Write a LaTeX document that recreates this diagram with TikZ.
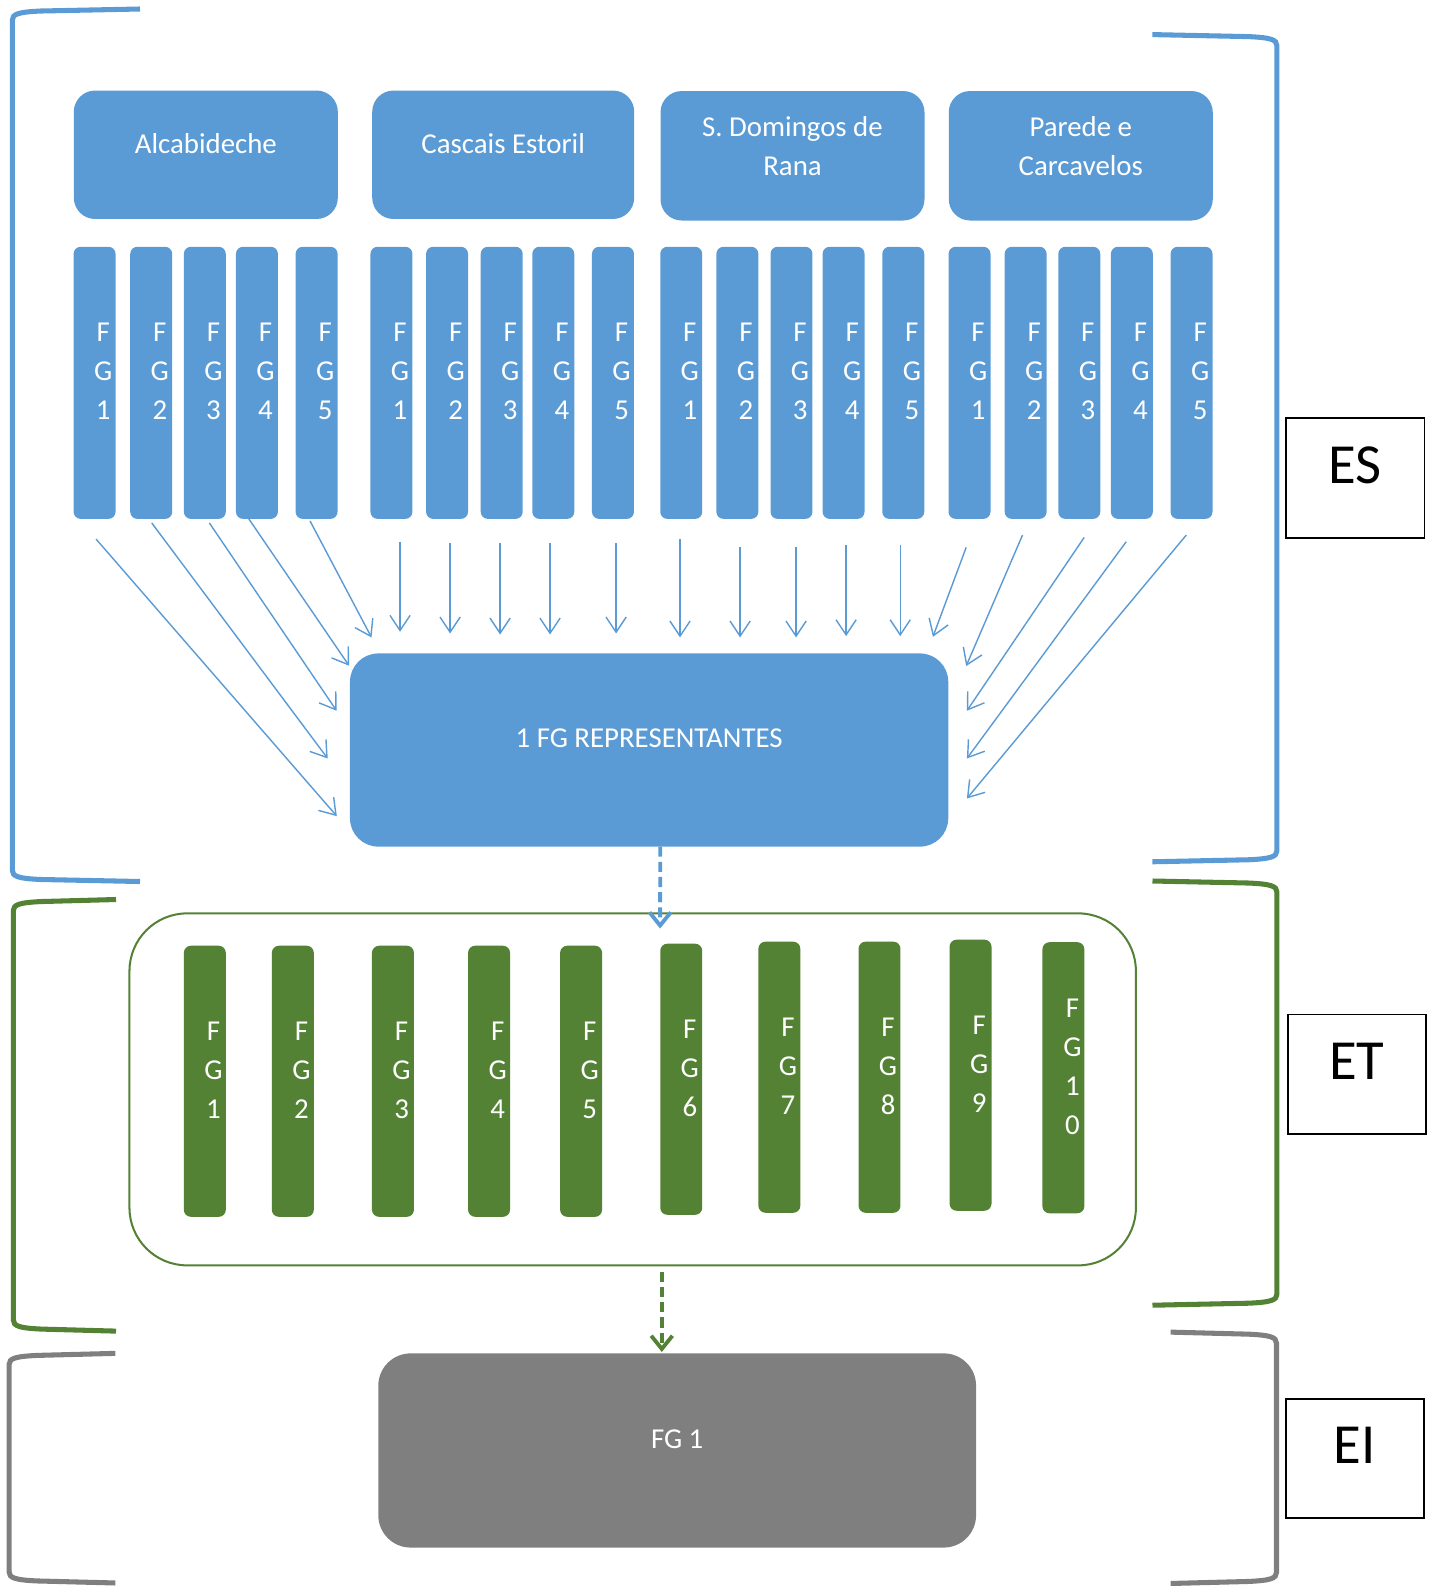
\documentclass[tikz,border=0pt]{standalone}
\usepackage{fontspec}
\setmainfont{Carlito}
\usetikzlibrary{arrows.meta,calc}
\definecolor{blu}{HTML}{5B9BD5}
\definecolor{grn}{HTML}{548235}
\definecolor{gry}{HTML}{7F7F7F}
\newcommand\mybrL[5]{% color, X, T, B, E
 \draw[brk,#1] (#5,#3) -- ({#2+28},{#3+2}) .. controls ({#2+6},{#3+3}) and (#2,{#3+5}) .. (#2,{#3+11}) -- (#2,{#4-11}) .. controls (#2,{#4-5}) and ({#2+6},{#4-3}) .. ({#2+28},{#4-2}) -- (#5,#4);}
\newcommand\mybrR[5]{% color, X, T, B, E
 \draw[brk,#1] (#5,#3) -- ({#2-28},{#3+2}) .. controls ({#2-6},{#3+3}) and (#2,{#3+5}) .. (#2,{#3+11}) -- (#2,{#4-11}) .. controls (#2,{#4-5}) and ({#2-6},{#4-3}) .. ({#2-28},{#4-2}) -- (#5,#4);}
\begin{document}
\begin{tikzpicture}[x=1pt,y=-1pt,
 every node/.style={inner sep=0pt,outer sep=0pt},
 wtxt/.style={text=white,font=\fontsize{28.5}{38.5}\selectfont,align=center},
 topbox/.style={rectangle,rounded corners=21pt,fill=blu,minimum height=127pt},
 esbar/.style={rectangle,rounded corners=7pt,fill=blu,minimum width=41.5pt,minimum height=269pt},
 etbar/.style={rectangle,rounded corners=7pt,fill=grn,minimum width=41.5pt,minimum height=268pt},
 feed/.style={draw=blu,line width=1.4pt,-{Straight Barb[length=15pt,width=20pt]}},
 dasharr/.style={line width=3.8pt,dash pattern=on 10pt off 5pt,-{Straight Barb[length=13pt,width=21pt]}},
 brk/.style={line width=5pt},
 sectag/.style={draw=black,line width=1.8pt,minimum width=137pt,minimum height=118pt},
 tagtxt/.style={font=\fontsize{56}{60}\selectfont}
]
\useasboundingbox (0,0) rectangle (1413,1568);

% brackets
\mybrL{blu}{12.2}{8.9}{871.5}{138.4}
\mybrR{blu}{1262.4}{34.2}{852}{1139.3}
\mybrL{grn}{13.2}{889.3}{1316}{114.7}
\mybrR{grn}{1262.4}{871}{1290.4}{1139.4}
\mybrL{gry}{9}{1338}{1565}{114}
\mybrR{gry}{1262}{1317}{1565.5}{1157.3}

% section tags
\node[sectag,label={[tagtxt,yshift=12.7pt]center:ES}] (es) at (1339.8,472.5) {};
\node[sectag,label={[tagtxt,yshift=12.7pt]center:ET}] (et) at (1341.5,1062) {};
\node[sectag,label={[tagtxt,yshift=12.7pt]center:EI}] (ei) at (1339.5,1442) {};

% top boxes
\node[topbox,minimum width=261pt,label={[wtxt,yshift=11pt]center:Alcabideche}] (alc) at (203.5,153) {};
\node[topbox,minimum width=259pt,label={[wtxt,yshift=11pt]center:Cascais Estoril}] (cas) at (497.5,153) {};
\node[topbox,minimum width=261pt,minimum height=128pt,label={[wtxt,yshift=9.5pt]center:S. Domingos de\\Rana}] (sdr) at (783.5,154) {};
\node[topbox,minimum width=261pt,minimum height=128pt,label={[wtxt,yshift=9.5pt]center:Parede e\\Carcavelos}] (pc) at (1068.5,154) {};

% ES bars
\foreach \n/\x/\k in {a1/93.5/1,a2/149.5/2,a3/202.5/3,a4/254/4,a5/313/5,
  c1/387/1,c2/442/2,c3/496/3,c4/547/4,c5/606/5,
  d1/673.5/1,d2/729/2,d3/782.5/3,d4/834/4,d5/893/5,
  p1/958.5/1,p2/1014/2,p3/1067/3,p4/1119/4,p5/1178/5}
  \node[esbar,label={[wtxt,xshift=8.5pt,yshift=11.5pt]center:F\\G\\\k}] (\n) at (\x,378.5) {};

% representatives box
\node[rectangle,rounded corners=28pt,fill=blu,minimum width=591.5pt,minimum height=191pt,
  label={[wtxt,yshift=11.5pt]center:1 FG REPRESENTANTES}] (rep) at (641.75,741.5) {};

% feeding arrows
\foreach \n/\sx/\sy/\ex/\ey in {a1/1.5/20/-13/160.9,a2/0.5/4/-22/103.9,a3/4.5/4/-13.2/56.7,a4/-8/0/-0.8/12.2,a5/-6.5/2/21.3/-15.8,
  c1/8.5/22.6/49.5/-21.4,c2/3/24.3/99/-19.7,c3/-1.6/24.3/148.4/-18.7,c4/-3.2/24.3/197.8/-18.7,c5/3.1/24.3/263.1/-19.7,
  d1/-1.2/20.3/326.3/-15.8,d2/2.7/28.2/385.7/-15.8,d3/4.5/28.2/441/-15.8,d4/2.5/25.9/490.5/-17.1,d5/-3/25.9/544/-17.1}
  \draw[feed] ($(\n.south)+(\sx,\sy)$) -- ($(rep.north west)+(\ex,\ey)$);
\foreach \n/\sx/\sy/\ex/\ey in {p1/-3.3/28.2/-15.2/-16.4,p2/-3.1/16/17.7/12.5,p3/4.9/18.3/18.4/56.7,p4/-5.6/22.6/18.4/103.9,p5/-5.2/16/18.4/143.4}
  \draw[feed] ($(\n.south)+(\sx,\sy)$) -- ($(rep.north east)+(\ex,\ey)$);

% ET container
\node[rectangle,rounded corners=57pt,draw=grn,line width=2pt,fill=white,minimum width=995pt,minimum height=348pt] (etbox) at (625.5,1077) {};
\foreach \n/\x/\y/\k in {e1/202.5/1069/1,e2/289.5/1069/2,e3/388.5/1069/3,e4/483.5/1069/4,e5/574.5/1069/5,
  e6/673.5/1067/6,e7/770.5/1065/7,e8/869.5/1065/8,e9/959.5/1063/9}
  \node[etbar,label={[wtxt,xshift=8.5pt,yshift=11pt]center:F\\G\\\k}] (\n) at (\x,\y) {};
\node[etbar,label={[wtxt,xshift=9pt,yshift=11pt]center:F\\G\\1\\0}] (e10) at (1051.3,1065.5) {};

% EI box
\node[rectangle,rounded corners=32pt,fill=gry,minimum width=591pt,minimum height=192pt,
  label={[wtxt,yshift=11pt]center:FG 1}] (fgone) at (669.5,1434) {};

% dashed arrows
\draw[dasharr,blu] ($(rep.south)+(11,0)$) -- ($(etbox.north)+(27.1,15)$);
\draw[dasharr,grn] ($(etbox.south)+(28.8,6.5)$) -- ($(fgone.north)+(-15.2,-1.4)$);
\end{tikzpicture}
\end{document}
